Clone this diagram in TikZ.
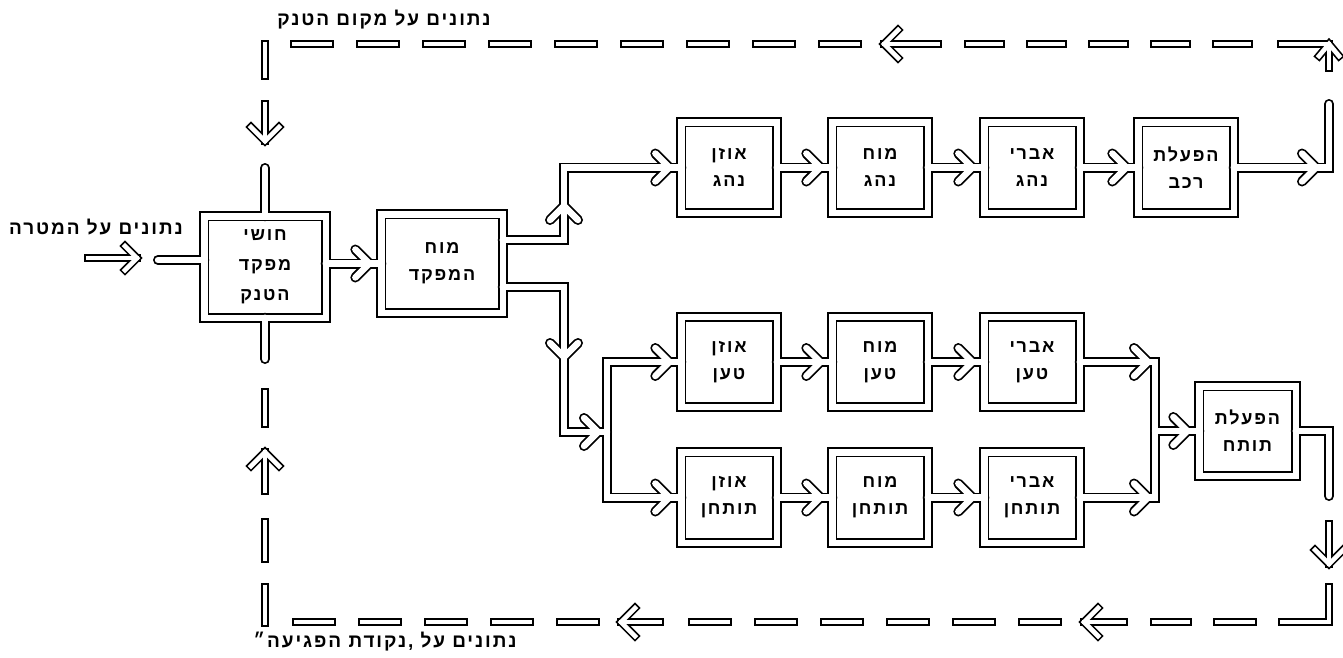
\documentclass[tikz,border=0pt]{standalone}
\usepackage{fontspec}
\setmainfont{Liberation Sans}
\newfontfamily\heb[Script=Hebrew,LetterSpace=10]{Liberation Sans}
\TeXXeTstate=1
\usetikzlibrary{calc}
\newcommand\hb[1]{{\heb\bfseries\beginR #1\endR}}
% chevrons: #1 style, #2 tip coordinate
\newcommand\chR[2]{\draw[#1] ($(#2)+(-14,-14)$) -- (#2) -- ($(#2)+(-14,14)$);}
\newcommand\chU[2]{\draw[#1] ($(#2)+(-14,14)$) -- (#2) -- ($(#2)+(14,14)$);}
\newcommand\chD[2]{\draw[#1] ($(#2)+(-14,-14)$) -- (#2) -- ($(#2)+(14,-14)$);}
\tikzset{
  pipeB/.style={line width=10pt, draw=black, line join=miter, line cap=round},
  pipeW/.style={line width=6.4pt, draw=white, line join=miter, line cap=round},
  dashB/.style={line width=8pt, draw=black, line join=miter, line cap=rect},
  dashW/.style={line width=4.6pt, draw=white, line join=miter, line cap=rect},
  blk/.style={draw=none, inner sep=0pt, align=center, font=\fontsize{18}{27}\selectfont},
  big/.style={blk, minimum width=121pt},
  small/.style={blk, minimum width=95pt, minimum height=90pt},
  lbl/.style={inner sep=0pt, font=\fontsize{19}{22}\selectfont}
}
\newcommand\net[2]{%
  % frames
  \foreach \n in {b1,b2,oN,mN,aN,hR,oT,mT,aT,oG,mG,aG,hT}
    \draw[#1] (\n.north west) rectangle (\n.south east);
  % commander senses -> commander brain
  \draw[#1] (b1.east |- b2.west) -- (b2.west);
  \chR{#1}{c12}
  \draw[#1] (inS) -- (inS -| b1.west);
  \draw[#1] (b1.north) -- (pt1);
  \draw[#1] (b1.south) -- (pb1);
  % upper branch (driver)
  \draw[#1] (b2.east |- u1) -- (u1) -- (u2) -- (oN.west);
  \chU{#1}{cU}
  \chR{#1}{cON}
  \draw[#1] (oN.east) -- (mN.west); \chR{#1}{cMN}
  \draw[#1] (mN.east) -- (aN.west); \chR{#1}{cAN}
  \draw[#1] (aN.east) -- (hR.west); \chR{#1}{cHR}
  \draw[#1] (hR.east) -- (r1) -- (r2); \chR{#1}{cR1}
  % lower branch (loader / gunner)
  \draw[#1] (b2.east |- l1) -- (l1) -- (l2) -- (l3);
  \chD{#1}{cD}
  \chR{#1}{cB}
  \draw[#1] (oT.west) -- (bt) -- (bb) -- (oG.west);
  \chR{#1}{cOT} \chR{#1}{cOG}
  \draw[#1] (oT.east) -- (mT.west); \chR{#1}{cMT}
  \draw[#1] (mT.east) -- (aT.west); \chR{#1}{cAT}
  \draw[#1] (oG.east) -- (mG.west); \chR{#1}{cMG}
  \draw[#1] (mG.east) -- (aG.west); \chR{#1}{cAG}
  \draw[#1] (aT.east) -- (rb1) -- (rb2) -- (aG.east);
  \chR{#1}{cT1} \chR{#1}{cT2}
  \draw[#1] (rb1 |- hT.west) -- (hT.west); \chR{#1}{cHT}
  \draw[#1] (hT.east) -- (r3) -- (r4);
  % ---- dashed feedback loop ----
  \foreach \a/\b in {290/334,356/400,422/466,488/532,554/598,620/664,686/730,752/796,818/862,964/1005,1026/1067,1088/1129,1150/1191,1212/1253}
    \draw[#2] (\a+4,44) -- (\b-4,44);
  \draw[#2] (938,44) -- (884,44);
  \draw[#2] (898,30) -- (884,44) -- (898,58);
  \draw[#2] (1281,44) -- (1329,44) -- (1329,68);
  \draw[#2] (1319,56) -- (1329,44) -- (1339,56);
  \draw[#2] (1329,524) -- (1329,564);
  \draw[#2] (1315,550) -- (1329,564) -- (1343,550);
  \draw[#2] (1282,622) -- (1329,622) -- (1329,587);
  \foreach \a/\b in {292/336,358/402,424/468,490/534,556/600,688/732,754/798,820/864,886/930,952/996,1018/1062,1150/1192,1213/1257}
    \draw[#2] (\a+4,622) -- (\b-4,622);
  \draw[#2] (660,622) -- (621,622);
  \draw[#2] (635,608) -- (621,622) -- (635,636);
  \draw[#2] (1124,622) -- (1084,622);
  \draw[#2] (1098,608) -- (1084,622) -- (1098,636);
  % left vertical
  \draw[#2] (265,44) -- (265,76);
  \draw[#2] (265,104) -- (265,141);
  \draw[#2] (251,127) -- (265,141) -- (279,127);
  \draw[#2] (265,392) -- (265,424);
  \draw[#2] (265,491) -- (265,452);
  \draw[#2] (251,466) -- (265,452) -- (279,466);
  \draw[#2] (265,522) -- (265,559);
  \draw[#2] (265,587) -- (265,623);
  % input arrow
  \draw[#2] (88,258) -- (137,258);
  \draw[#2] (125,246) -- (137,258) -- (125,270);
}
\begin{document}
\begin{tikzpicture}[x=1pt,y=-1pt]
\fill[white] (0,0) rectangle (1343,657);
\useasboundingbox (0,0) rectangle (1343,657);
% boxes
\node[big, minimum height=101pt, font=\fontsize{18}{30}\selectfont] (b1) at (265,267) {\hb{חושי}\\\hb{מפקד}\\\hb{הטנק}};
\node[big, minimum height=98pt] (b2) at (442,263.5) {\hb{מוח}\\\hb{המפקד}};
\node[small] (oN) at (729,167.5) {\hb{אוזן}\\\hb{נהג}};
\node[small] (mN) at (880,167.5) {\hb{מוח}\\\hb{נהג}};
\node[small] (aN) at (1032,167.5) {\hb{אברי}\\\hb{נהג}};
\node[small] (hR) at (1186,167.5) {\hb{הפעלת}\\\hb{רכב}};
\node[small] (oT) at (729,362) {\hb{אוזן}\\\hb{טען}};
\node[small] (mT) at (880,362) {\hb{מוח}\\\hb{טען}};
\node[small] (aT) at (1032,362) {\hb{אברי}\\\hb{טען}};
\node[small] (oG) at (729,497.5) {\hb{אוזן}\\\hb{תותחן}};
\node[small] (mG) at (880,497.5) {\hb{מוח}\\\hb{תותחן}};
\node[small] (aG) at (1032,497.5) {\hb{אברי}\\\hb{תותחן}};
\node[small, minimum width=96pt, minimum height=89pt] (hT) at (1247.5,431) {\hb{הפעלת}\\\hb{תותח}};
% labels
\node[lbl] (tl) at (384,20) {\hb{נתונים על מקום הטנק}};
\node[lbl] (ll) at (96,227) {\hb{נתונים על המטרה}};
\node[lbl] (bl) at (385,642) {\hb{נתונים על ,נקודת הפגיעה״}};
% coordinates
\coordinate (inS) at (158,260);
\coordinate (pt1) at (265,168);
\coordinate (pb1) at (265,359);
\coordinate (u1) at (564,240);
\coordinate (u2) at (564,167.5);
\coordinate (l1) at (564,287);
\coordinate (l2) at (564,432);
\coordinate (l3) at (607,432);
\coordinate (bt) at (607,362);
\coordinate (bb) at (607,497.5);
\coordinate (r1) at (1329,167.5);
\coordinate (r2) at (1329,104);
\coordinate (rb1) at (1155,362);
\coordinate (rb2) at (1155,497.5);
\coordinate (r3) at (1329,431);
\coordinate (r4) at (1329,496);
\coordinate (c12) at ($(b2.west)+(-12,0)$);
\coordinate (cU) at (564,206);
\coordinate (cD) at (564,357);
\coordinate (cB) at (598,432);
\coordinate (cON) at ($(oN.west)+(-12,0)$);
\coordinate (cMN) at ($(mN.west)+(-12,0)$);
\coordinate (cAN) at ($(aN.west)+(-12,0)$);
\coordinate (cHR) at ($(hR.west)+(-12,0)$);
\coordinate (cR1) at (1316,167.5);
\coordinate (cOT) at ($(oT.west)+(-12,0)$);
\coordinate (cMT) at ($(mT.west)+(-12,0)$);
\coordinate (cAT) at ($(aT.west)+(-12,0)$);
\coordinate (cOG) at ($(oG.west)+(-12,0)$);
\coordinate (cMG) at ($(mG.west)+(-12,0)$);
\coordinate (cAG) at ($(aG.west)+(-12,0)$);
\coordinate (cT1) at (1148,362);
\coordinate (cT2) at (1148,497.5);
\coordinate (cHT) at ($(hT.west)+(-12,0)$);
% two-layer hollow drawing
\net{pipeB}{dashB}
\net{pipeW}{dashW}
\end{tikzpicture}
\end{document}
